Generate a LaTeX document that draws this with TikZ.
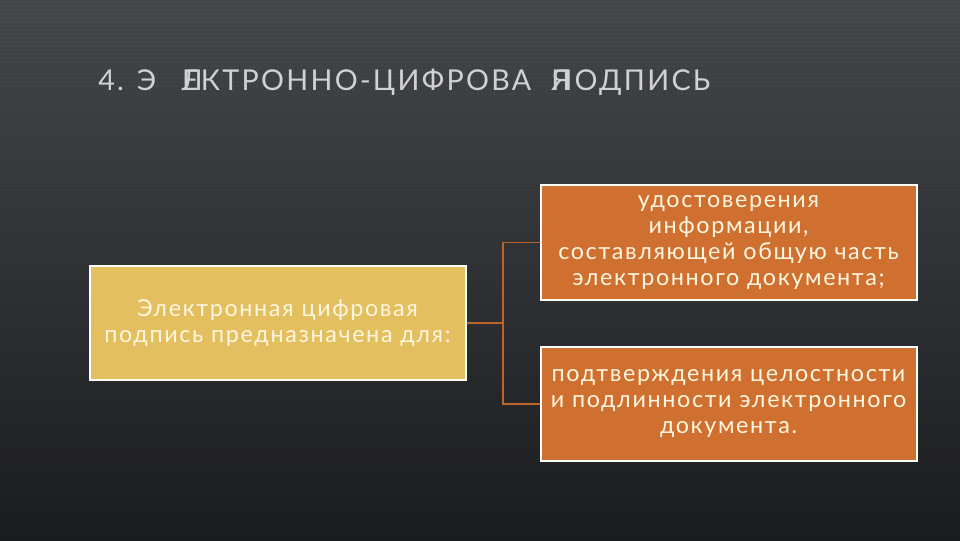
\documentclass[tikz,border=0pt]{standalone}
\usepackage{fontspec}
\setmainfont{Lato}
\newfontfamily\headfont[LetterSpace=8]{Lato}
\newfontfamily\cardfont[LetterSpace=7]{Lato}
\usetikzlibrary{patterns}
\definecolor{slatetop}{HTML}{45484C}
\definecolor{slatebot}{HTML}{1B1C1E}
\definecolor{gold}{HTML}{E4BF5F}
\definecolor{rust}{HTML}{D07030}
\definecolor{cream}{HTML}{FFF6E0}
\tikzset{
  card/.style={draw=white,line width=1.5pt,text=cream,align=center,inner sep=1pt,
    minimum width=282pt,text width=280pt,font=\cardfont\fontsize{17.5}{19.5}\selectfont},
  link/.style={draw=rust!90!black,line width=1.2pt}
}

\begin{document}
\begin{tikzpicture}[x=0.75pt,y=-0.75pt]
% background
\shade[top color=slatetop,bottom color=slatebot](0,0) rectangle (960,540);
\fill[pattern=dots,pattern color=black,opacity=0.25](0,0) rectangle (960,540);
\useasboundingbox (0,0) rectangle (960,540);
% title
\node[anchor=base west,inner sep=0pt,text=white!82!black,font=\headfont\fontsize{21.5}{21.5}\selectfont] (title) at (98,90)
  {4. Э\hspace{0.9em}\rlap{Л}ЕКТРОННО-ЦИФРОВА\hspace{0.7em}\rlap{Я}ПОДПИСЬ};
% boxes
\node[card,fill=gold,minimum height=85.5pt] (main) at (277.5,323)
  {Электронная цифровая\\подпись предназначена для:};
\node[card,fill=rust,minimum height=86pt] (top) at (728.5,242.5)
  {удостоверения\\информации,\\составляющей общую часть\\электронного документа;};
\node[card,fill=rust,minimum height=85.5pt] (bot) at (728.5,404)
  {подтверждения целостности\\и подлинности электронного\\документа.};
% connectors
\coordinate (fork) at (503,323);
\draw[link](main.east)--(fork);
\draw[link](top.west)-|(fork)|-(bot.west);
\end{tikzpicture}
\end{document}
